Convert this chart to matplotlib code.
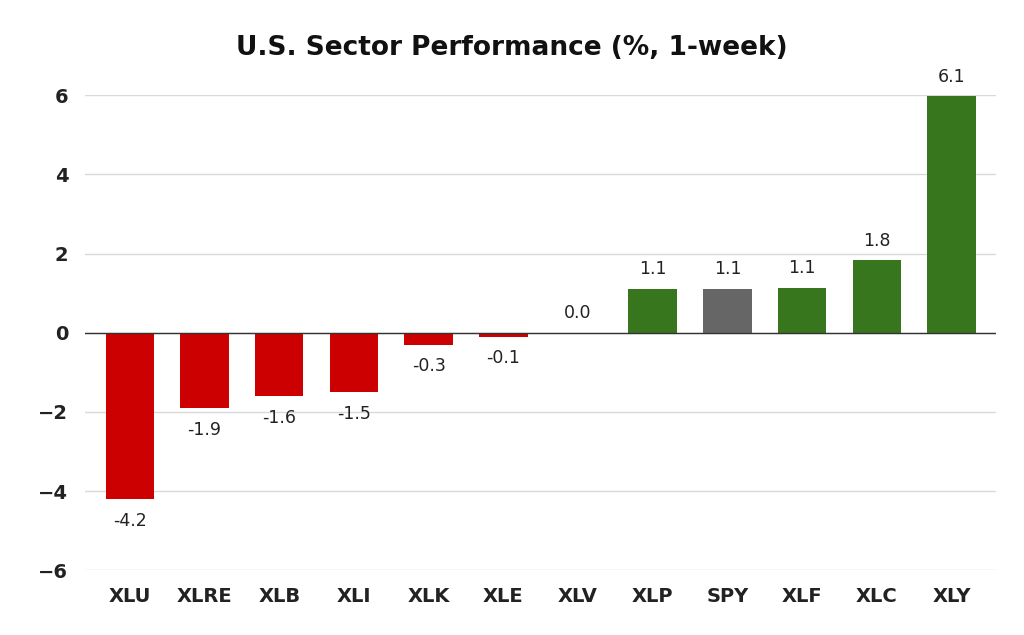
import matplotlib.pyplot as plt

tickers = ['XLU', 'XLRE', 'XLB', 'XLI', 'XLK', 'XLE', 'XLV', 'XLP', 'SPY', 'XLF', 'XLC', 'XLY']
values = [-4.2, -1.9, -1.6, -1.5, -0.3, -0.1, 0.0, 1.1, 1.1, 1.13, 1.83, 5.97]
labels = ['-4.2', '-1.9', '-1.6', '-1.5', '-0.3', '-0.1', '0.0', '1.1', '1.1', '1.1', '1.8', '6.1']

red, green, grey = '#cc0000', '#38761d', '#666666'
colors = [grey if t == 'SPY' else (red if v < 0 else green) for t, v in zip(tickers, values)]

fig = plt.figure(figsize=(10.24, 6.35), dpi=100)
ax = fig.add_axes([0.083, 0.102, 0.89, 0.748])
x = range(len(tickers))
ax.bar(x, values, width=0.65, color=colors, zorder=3)
for i, (v, lab) in enumerate(zip(values, labels)):
    off = 0.5 if v >= 0 else -0.55
    ax.text(i, v + off, lab, ha='center', va='center', fontsize=12.5, color='#222222', clip_on=False)

ax.set_ylim(-6, 6)
ax.set_xlim(-0.6, len(tickers) - 0.4)
ax.set_yticks(range(-6, 7, 2))
ax.grid(axis='y', color='#d9d9d9', linewidth=1, zorder=0)
ax.axhline(0, color='#333333', linewidth=1, zorder=4)
for s in ax.spines.values():
    s.set_visible(False)
ax.tick_params(length=0, labelsize=14, labelcolor='#222222', pad=12)
ax.set_xticks(list(x))
ax.set_xticklabels(tickers, fontweight='bold')
for t in ax.get_yticklabels():
    t.set_fontweight('bold')
fig.text(0.5, 0.925, 'U.S. Sector Performance (%, 1-week)', ha='center', va='center',
         fontsize=19, fontweight='bold', color='#111111')
fig.savefig('out.png', dpi=100, facecolor='white')
